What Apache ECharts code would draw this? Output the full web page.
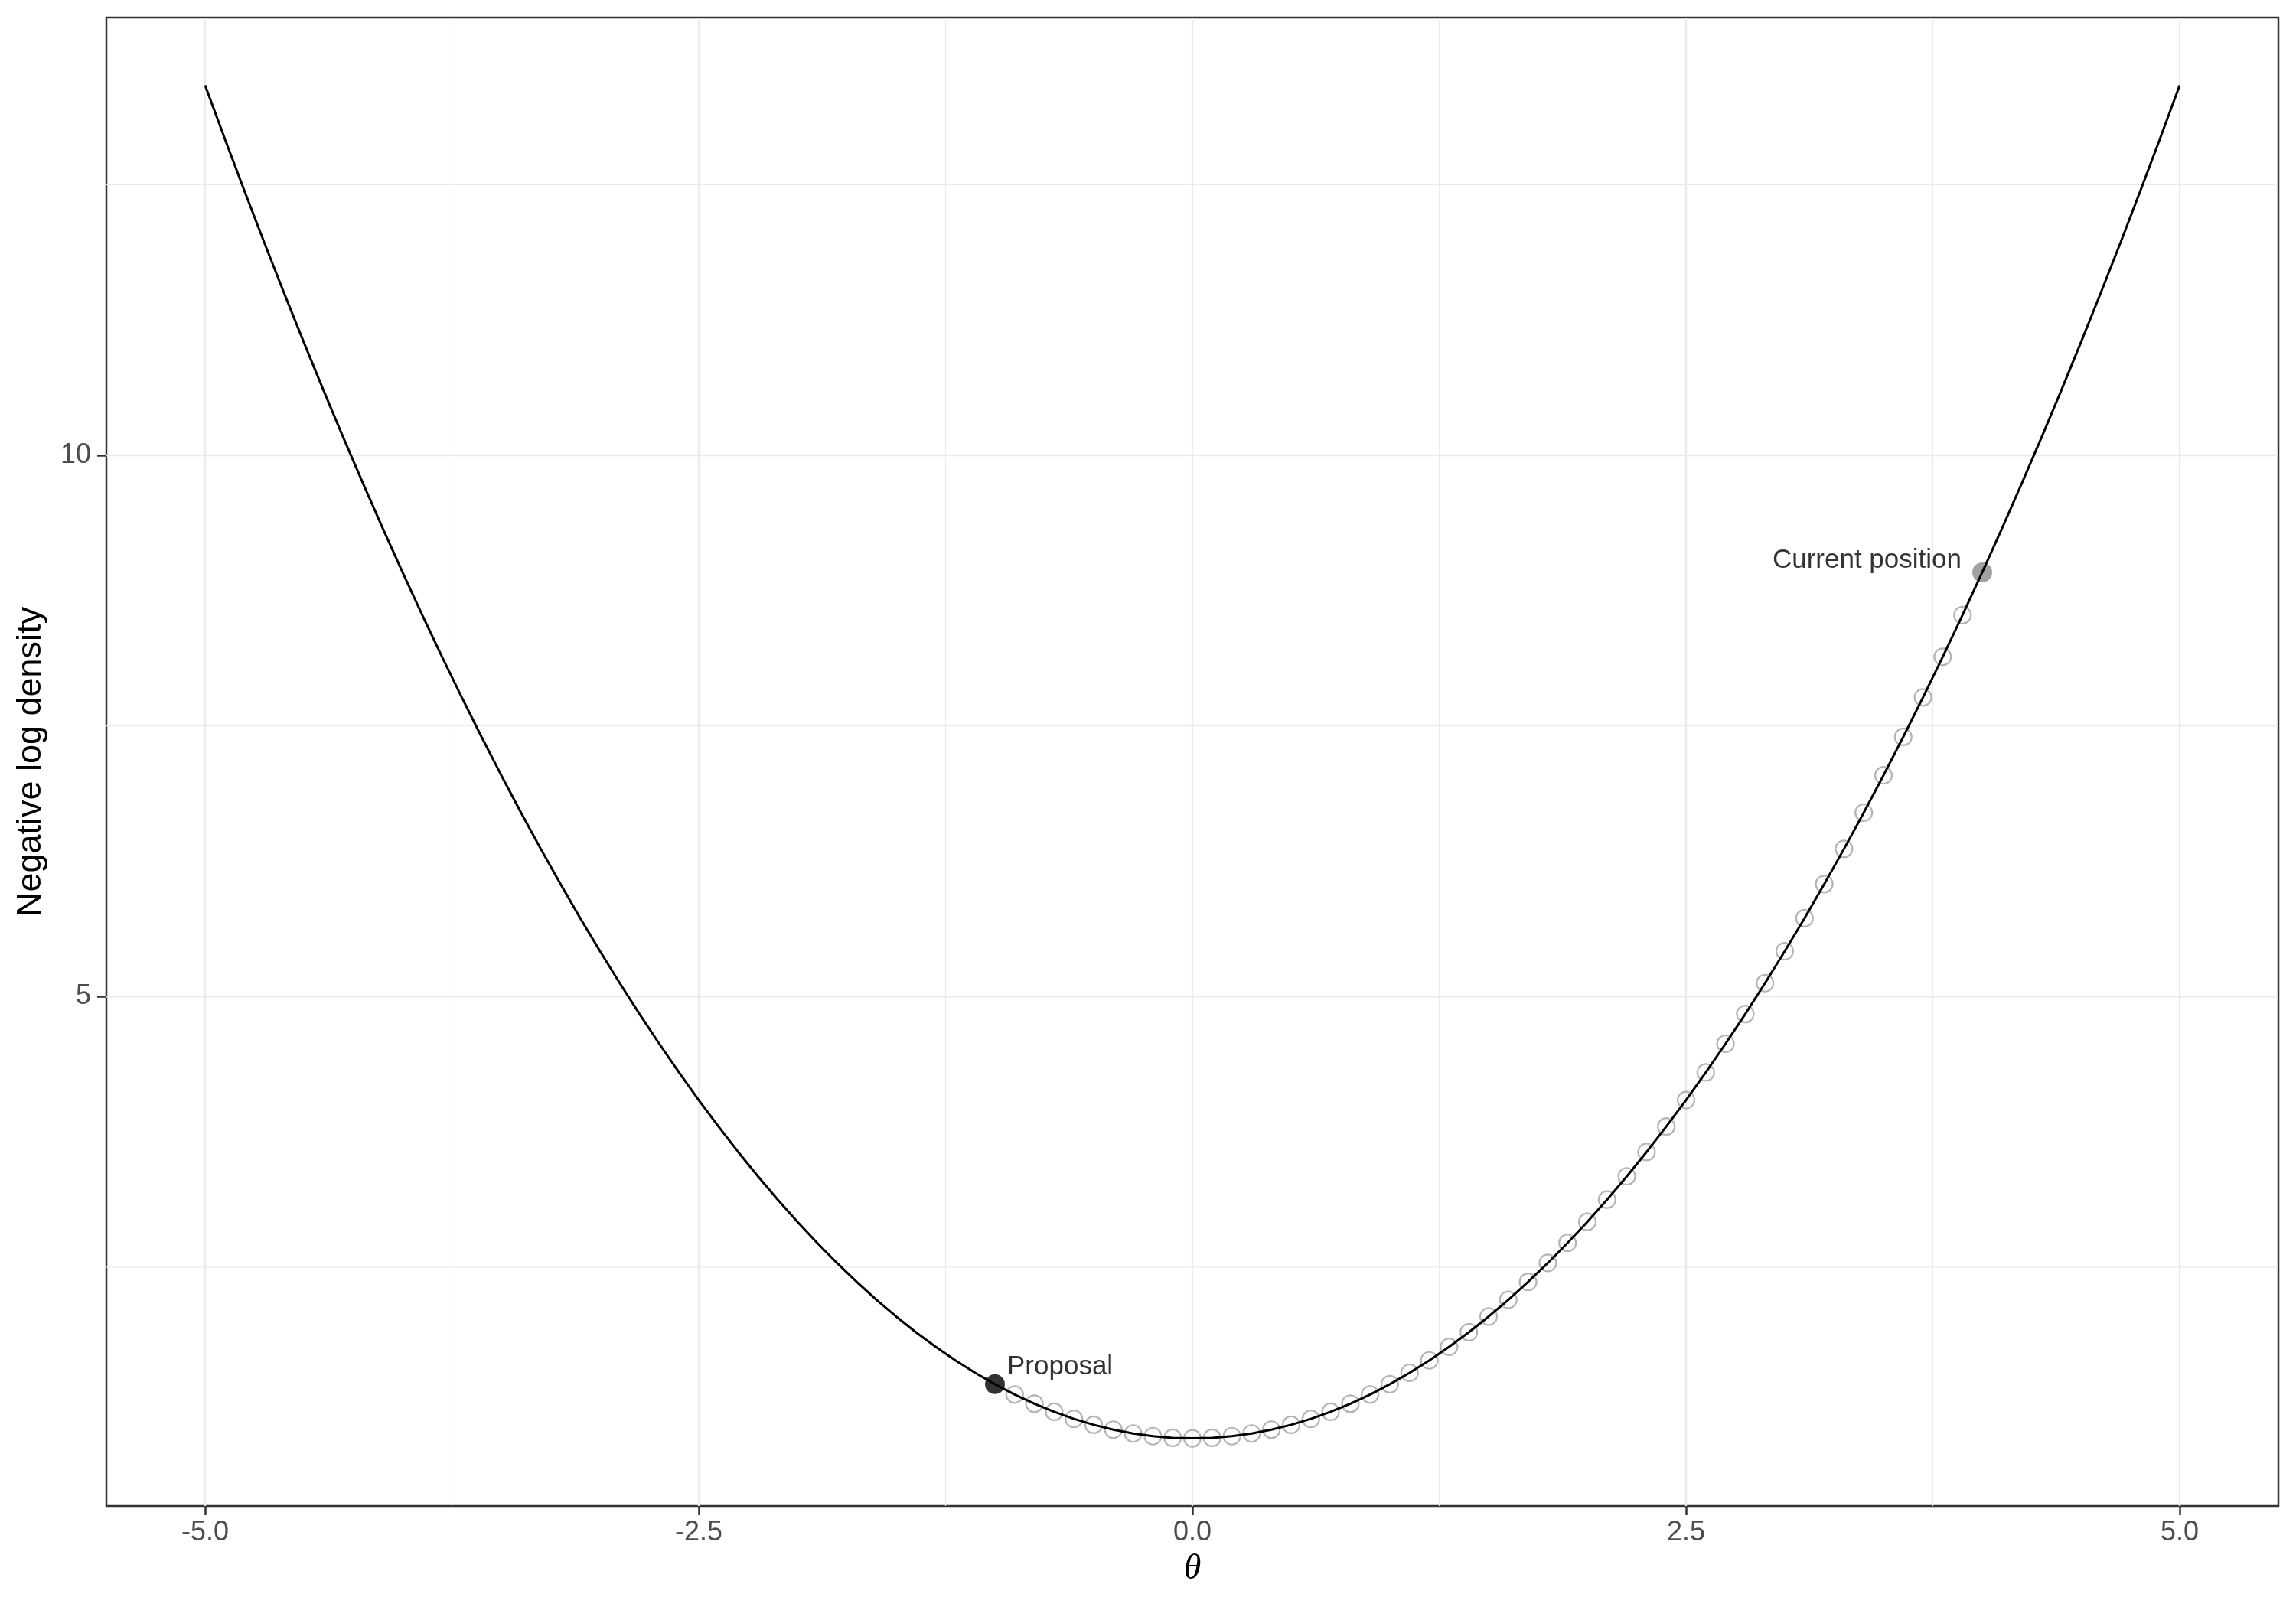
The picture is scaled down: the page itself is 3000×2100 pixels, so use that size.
<!DOCTYPE html>
<html><head><meta charset="utf-8">
<script src="https://cdn.jsdelivr.net/npm/echarts@6/dist/echarts.min.js"></script>
<style>html,body{margin:0;padding:0;background:#fff}#c{width:3000px;height:2100px}</style>
</head><body><div id="c"></div>
<script>
// Curve (negative log density)
const curveTheta = [-5.0, -4.9, -4.8, -4.7, -4.6, -4.5, -4.4, -4.3, -4.2, -4.1, -4.0, -3.9, -3.8, -3.7, -3.6, -3.5, -3.4, -3.3, -3.2, -3.1,
  -3.0, -2.9, -2.8, -2.7, -2.6, -2.5, -2.4, -2.3, -2.2, -2.1, -2.0, -1.9, -1.8, -1.7, -1.6, -1.5, -1.4, -1.3, -1.2, -1.1,
  -1.0, -0.9, -0.8, -0.7, -0.6, -0.5, -0.4, -0.3, -0.2, -0.1, 0.0, 0.1, 0.2, 0.3, 0.4, 0.5, 0.6, 0.7, 0.8, 0.9,
  1.0, 1.1, 1.2, 1.3, 1.4, 1.5, 1.6, 1.7, 1.8, 1.9, 2.0, 2.1, 2.2, 2.3, 2.4, 2.5, 2.6, 2.7, 2.8, 2.9,
  3.0, 3.1, 3.2, 3.3, 3.4, 3.5, 3.6, 3.7, 3.8, 3.9, 4.0, 4.1, 4.2, 4.3, 4.4, 4.5, 4.6, 4.7, 4.8, 4.9, 5.0];
const curveValue = [13.419, 12.924, 12.439, 11.964, 11.499, 11.044, 10.599, 10.164, 9.739, 9.324, 8.919, 8.524, 8.139, 7.764, 7.399, 7.044, 6.699, 6.364, 6.039, 5.724,
  5.419, 5.124, 4.839, 4.564, 4.299, 4.044, 3.799, 3.564, 3.339, 3.124, 2.919, 2.724, 2.539, 2.364, 2.199, 2.044, 1.899, 1.764, 1.639, 1.524,
  1.419, 1.324, 1.239, 1.164, 1.099, 1.044, 0.999, 0.964, 0.939, 0.924, 0.919, 0.924, 0.939, 0.964, 0.999, 1.044, 1.099, 1.164, 1.239, 1.324,
  1.419, 1.524, 1.639, 1.764, 1.899, 2.044, 2.199, 2.364, 2.539, 2.724, 2.919, 3.124, 3.339, 3.564, 3.799, 4.044, 4.299, 4.564, 4.839, 5.124,
  5.419, 5.724, 6.039, 6.364, 6.699, 7.044, 7.399, 7.764, 8.139, 8.524, 8.919, 9.324, 9.739, 10.164, 10.599, 11.044, 11.499, 11.964, 12.439, 12.924, 13.419];

// Trajectory points (open circles)
const pathTheta = [-0.9, -0.8, -0.7, -0.6, -0.5, -0.4, -0.3, -0.2, -0.1, 0.0, 0.1, 0.2, 0.3, 0.4, 0.5, 0.6, 0.7, 0.8, 0.9, 1.0,
  1.1, 1.2, 1.3, 1.4, 1.5, 1.6, 1.7, 1.8, 1.9, 2.0, 2.1, 2.2, 2.3, 2.4, 2.5, 2.6, 2.7, 2.8, 2.9, 3.0,
  3.1, 3.2, 3.3, 3.4, 3.5, 3.6, 3.7, 3.8, 3.9];
const pathValue = [1.324, 1.239, 1.164, 1.099, 1.044, 0.999, 0.964, 0.939, 0.924, 0.919, 0.924, 0.939, 0.964, 0.999, 1.044, 1.099, 1.164, 1.239, 1.324, 1.419,
  1.524, 1.639, 1.764, 1.899, 2.044, 2.199, 2.364, 2.539, 2.724, 2.919, 3.124, 3.339, 3.564, 3.799, 4.044, 4.299, 4.564, 4.839, 5.124, 5.419,
  5.724, 6.039, 6.364, 6.699, 7.044, 7.399, 7.764, 8.139, 8.524];

const currentPoint = [4.0, 8.919];
const currentLabel = 'Current position';
const proposalPoint = [-1.0, 1.419];
const proposalLabel = 'Proposal';

const xRange = [-5.5, 5.5];
const yRange = [0.294, 14.044];
const xTicks = [-5, -2.5, 0, 2.5, 5];
const xMinor = [-3.75, -1.25, 1.25, 3.75];
const yTicks = [5, 10];
const yMinor = [2.5, 7.5, 12.5];
const xTitle = 'θ';
const yTitle = 'Negative log density';

const FONT = '"Liberation Sans", Arial, sans-serif';
const chart = echarts.init(document.getElementById('c'), null, {renderer: 'canvas'});

const gridSeries = [];
function gridLine(data, width) {
  gridSeries.push({type: 'line', z: 1, silent: true, showSymbol: false, symbol: 'none', data: data,
    lineStyle: {color: '#EBEBEB', width: width, type: 'solid'}, emphasis: {disabled: true}});
}
xTicks.forEach(v => gridLine([[v, yRange[0]], [v, yRange[1]]], 2.4));
xMinor.forEach(v => gridLine([[v, yRange[0]], [v, yRange[1]]], 1.2));
yTicks.forEach(v => gridLine([[xRange[0], v], [xRange[1], v]], 2.4));
yMinor.forEach(v => gridLine([[xRange[0], v], [xRange[1], v]], 1.2));

chart.setOption({
  animation: false,
  backgroundColor: '#ffffff',
  grid: {left: 139, right: 23, top: 23, bottom: 132, show: true, borderColor: '#333333', borderWidth: 2.5,
         backgroundColor: 'transparent', outerBoundsMode: 'none'},
  xAxis: {
    type: 'value', min: xRange[0], max: xRange[1], position: 'bottom',
    name: xTitle, nameLocation: 'middle', nameGap: 60,
    nameTextStyle: {fontFamily: '"Liberation Serif", "DejaVu Serif", serif', fontStyle: 'italic', fontSize: 46, color: '#000'},
    axisLine: {show: false, onZero: false},
    axisTick: {show: true, customValues: xTicks, length: 12, lineStyle: {color: '#333333', width: 2.5}},
    axisLabel: {customValues: xTicks, formatter: v => v.toFixed(1), fontFamily: FONT, fontSize: 36, color: '#4D4D4D', margin: 17},
    splitLine: {show: false}, minorSplitLine: {show: false}
  },
  yAxis: {
    type: 'value', min: yRange[0], max: yRange[1], position: 'left',
    name: yTitle, nameLocation: 'middle', nameGap: 76,
    nameTextStyle: {fontFamily: FONT, fontSize: 45, color: '#000'},
    axisLine: {show: false, onZero: false},
    axisTick: {show: true, customValues: yTicks, length: 12, lineStyle: {color: '#333333', width: 2.5}},
    axisLabel: {customValues: yTicks, formatter: v => String(v), fontFamily: FONT, fontSize: 36, color: '#4D4D4D', margin: 20},
    splitLine: {show: false}, minorSplitLine: {show: false}
  },
  series: gridSeries.concat([
    {
      type: 'scatter', z: 2, silent: true,
      data: pathTheta.map((t, i) => [t, pathValue[i]]),
      symbol: 'circle', symbolSize: 22,
      itemStyle: {color: 'rgba(0,0,0,0)', borderColor: '#A3A3A3', borderWidth: 2.2}
    },
    {
      type: 'scatter', z: 3, silent: true,
      data: [{value: currentPoint, label: {show: true, formatter: currentLabel, position: 'left', distance: 14, offset: [0, -16]}}],
      symbol: 'circle', symbolSize: 26,
      itemStyle: {color: '#8A8A8A'},
      label: {fontFamily: FONT, fontSize: 35, color: '#000'}
    },
    {
      type: 'scatter', z: 3, silent: true,
      data: [{value: proposalPoint, label: {show: true, formatter: proposalLabel, position: 'right', distance: 3, offset: [0, -23]}}],
      symbol: 'circle', symbolSize: 26,
      itemStyle: {color: '#000000'},
      label: {fontFamily: FONT, fontSize: 35, color: '#000'}
    },
    {
      type: 'line', z: 4, silent: true,
      data: curveTheta.map((t, i) => [t, curveValue[i]]),
      showSymbol: false, symbol: 'none', smooth: false,
      lineStyle: {color: '#000000', width: 3}
    }
  ])
});
</script>
</body></html>
